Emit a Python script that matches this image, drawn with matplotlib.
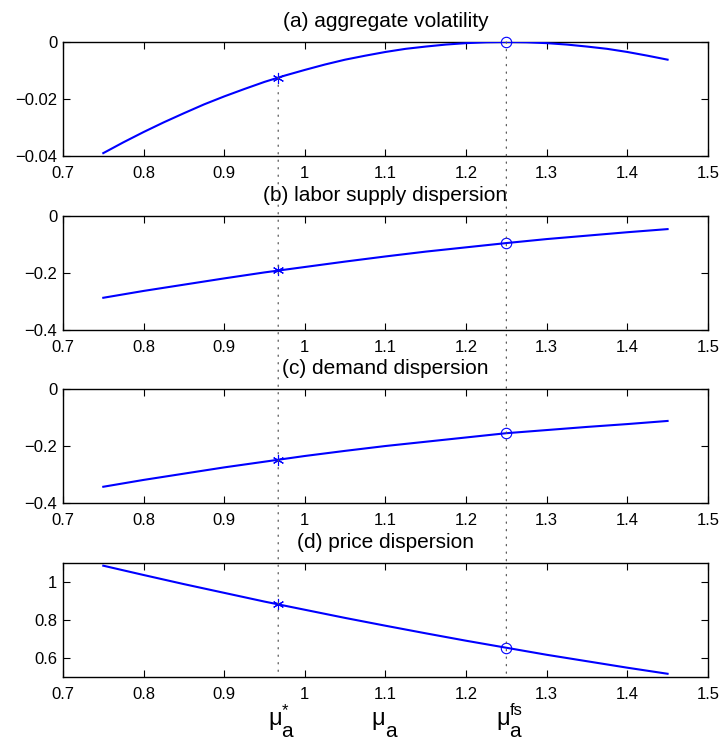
import matplotlib
matplotlib.use("Agg")
import matplotlib.pyplot as plt
from matplotlib.patches import ConnectionPatch
from matplotlib.ticker import FuncFormatter

plt.rcParams["font.family"] = ["Liberation Sans", "DejaVu Sans"]

# mu_a grid (finer one for the curved top panel)
mu_fine = [0.750, 0.775, 0.800, 0.825, 0.850, 0.875, 0.900, 0.925, 0.950, 0.975,
           1.000, 1.025, 1.050, 1.075, 1.100, 1.125, 1.150, 1.175, 1.200, 1.225,
           1.250, 1.275, 1.300, 1.325, 1.350, 1.375, 1.400, 1.425, 1.450]
mu = [0.75, 0.80, 0.85, 0.90, 0.95, 1.00, 1.05, 1.10, 1.15, 1.20, 1.25, 1.30, 1.35, 1.40, 1.45]

volatility = [-0.0390, -0.0352, -0.0316, -0.0282, -0.0250, -0.0219, -0.0191, -0.0165,
              -0.0140, -0.0118, -0.0098, -0.0079, -0.0062, -0.0048, -0.0035, -0.0024,
              -0.0016, -0.0009, -0.0004, -0.0001, 0.0000, -0.0001, -0.0004, -0.0009,
              -0.0016, -0.0024, -0.0035, -0.0048, -0.0062]
labor = [-0.287, -0.263, -0.241, -0.219, -0.198, -0.179, -0.160, -0.142,
         -0.125, -0.110, -0.095, -0.081, -0.069, -0.057, -0.046]
demand = [-0.343, -0.319, -0.297, -0.275, -0.255, -0.235, -0.217, -0.200,
          -0.185, -0.170, -0.155, -0.144, -0.133, -0.123, -0.112]
price = [1.086, 1.037, 0.989, 0.943, 0.897, 0.854, 0.811, 0.770,
         0.730, 0.691, 0.654, 0.617, 0.583, 0.549, 0.517]

mu_star = 0.967
mu_fs = 1.25
star_vals = [-0.0125, -0.191, -0.248, 0.8825]
fs_vals = [0.0, -0.094, -0.155, 0.654]

titles = ["(a) aggregate volatility", "(b) labor supply dispersion",
          "(c) demand dispersion", "(d) price dispersion"]
xs = [mu_fine, mu, mu, mu]
series = [volatility, labor, demand, price]
ylims = [(-0.04, 0), (-0.4, 0), (-0.4, 0), (0.5, 1.1)]
yticks = [[-0.04, -0.02, 0], [-0.4, -0.2, 0], [-0.4, -0.2, 0], [0.6, 0.8, 1.0]]
xticks = [0.7, 0.8, 0.9, 1.0, 1.1, 1.2, 1.3, 1.4, 1.5]

# bottom labels: mu with subscript a and optional superscript
bottom_pos = [mu_star, 1.1, mu_fs]
bottom_sup = ["*", "", "fs"]

fmt = FuncFormatter(lambda v, p: ("%g" % round(v, 6)).replace("-", "\u2212"))

fig = plt.figure(figsize=(7.23, 7.42), dpi=100)
bottoms = [0.7898, 0.5553, 0.3221, 0.0876]
axes = []
for i in range(4):
    ax = fig.add_axes([0.0871, bottoms[i], 0.892, 0.1536])
    ax.plot(xs[i], series[i], color="blue", lw=1.5, zorder=3)
    ax.plot(mu_star, star_vals[i], marker=(6, 2, 0), ms=8, mec="blue", mew=0.8, ls="none", zorder=4)
    ax.plot(mu_fs, fs_vals[i], marker="o", ms=7.5, mfc="none", mec="blue", mew=0.8,
            ls="none", zorder=4, clip_on=False)
    ax.set_xlim(0.7, 1.5)
    ax.set_ylim(*ylims[i])
    ax.set_xticks(xticks)
    ax.set_yticks(yticks[i])
    ax.xaxis.set_major_formatter(fmt)
    ax.yaxis.set_major_formatter(fmt)
    ax.tick_params(direction="in", top=True, right=True, length=5, width=0.8, labelsize=12)
    ax.tick_params(axis="x", pad=7.5)
    ax.tick_params(axis="y", pad=4)
    for s in ax.spines.values():
        s.set_linewidth(1.0)
    ax.set_title(titles[i], fontsize=15, pad=10.5)
    axes.append(ax)

# dotted guides running from panel (a) down to panel (d)
for xv, yv in [(mu_star, star_vals[0]), (mu_fs, fs_vals[0])]:
    con = ConnectionPatch(xyA=(xv, yv), coordsA=axes[0].transData,
                          xyB=(xv, ylims[3][0]), coordsB=axes[3].transData,
                          color="0.35", lw=0.9, linestyle=(0, (1, 5)))
    fig.add_artist(con)

ax = axes[3]
for xv, sup in zip(bottom_pos, bottom_sup):
    dx = 2.5 if sup else 0.0
    ax.annotate("\u03bc", xy=(xv, 0), xycoords=("data", "axes fraction"),
                xytext=(dx, -34.5), textcoords="offset points",
                ha="right", va="baseline", fontsize=17)
    ax.annotate("a", xy=(xv, 0), xycoords=("data", "axes fraction"),
                xytext=(dx - 0.3, -43.2), textcoords="offset points",
                ha="left", va="baseline", fontsize=15)
    if sup:
        ax.annotate(sup, xy=(xv, 0), xycoords=("data", "axes fraction"),
                    xytext=(dx, -27.6), textcoords="offset points",
                    ha="left", va="baseline", fontsize=12)

fig.savefig("out.png", dpi=100)
